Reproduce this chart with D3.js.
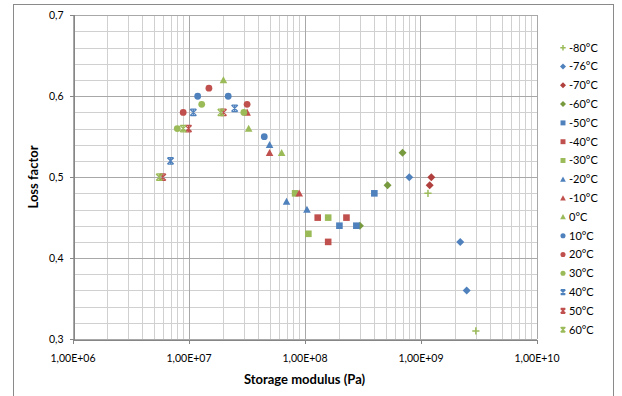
<!DOCTYPE html>
<html><head><meta charset="utf-8">
<script src="https://cdn.jsdelivr.net/npm/d3@7"></script>
<style>
html,body{margin:0;padding:0;background:#fff;}
svg text{font-family:Lato,"Open Sans",sans-serif;fill:#000;}
</style></head>
<body><svg id="c" width="622" height="396"></svg>
<script>
// ---- data ----
const temps = ["-80°C","-76°C","-70°C","-60°C","-50°C","-40°C","-30°C","-20°C","-10°C","0°C","10°C","20°C","30°C","40°C","50°C","60°C"];
const markers = ["plus","diamond","diamond","diamond","square","square","square","triangle","triangle","triangle","circle","circle","circle","star","star","star"];
const colors = ["#9BBB59","#4F81BD","#B0403D","#789A3E","#4F81BD","#C0504D","#9BBB59","#4F81BD","#C0504D","#9BBB59","#4F81BD","#C0504D","#9BBB59","#4F81BD","#C0504D","#9BBB59"];
const modulus = [
  [1.16e9, 3.0e9],
  [8.0e8, 2.2e9, 2.5e9],
  [1.24e9, 1.2e9],
  [3.0e8, 5.2e8, 7.0e8],
  [2.0e8, 2.8e8, 4.0e8],
  [1.3e8, 1.6e8, 2.3e8],
  [8.3e7, 1.08e8, 1.6e8],
  [5.0e7, 7.0e7, 1.05e8],
  [3.2e7, 5.0e7, 9.0e7],
  [2.0e7, 3.3e7, 6.35e7],
  [1.2e7, 2.2e7, 4.5e7],
  [9.0e6, 1.5e7, 3.2e7],
  [8.0e6, 1.3e7, 3.0e7],
  [7.0e6, 1.1e7, 2.5e7],
  [6.0e6, 1.0e7, 2.0e7],
  [5.6e6, 9.0e6, 1.9e7]
];
const loss = [
  [0.48, 0.31],
  [0.50, 0.42, 0.36],
  [0.50, 0.49],
  [0.44, 0.49, 0.53],
  [0.44, 0.44, 0.48],
  [0.45, 0.42, 0.45],
  [0.48, 0.43, 0.45],
  [0.54, 0.47, 0.46],
  [0.58, 0.53, 0.48],
  [0.62, 0.56, 0.53],
  [0.60, 0.60, 0.55],
  [0.58, 0.61, 0.59],
  [0.56, 0.59, 0.58],
  [0.52, 0.58, 0.585],
  [0.50, 0.56, 0.58],
  [0.50, 0.56, 0.58]
];
const xTicks = [1e6, 1e7, 1e8, 1e9, 1e10];
const yTicks = [0.3, 0.4, 0.5, 0.6, 0.7];

// ---- chart ----
const svg = d3.select("#c");
const L = 72.5, R = 536.5, T = 15.3, B = 339;
const x = d3.scaleLog().domain([1e6, 1e10]).range([L, R]);
const y = d3.scaleLinear().domain([0.3, 0.7]).range([B, T]);

// outer frame
svg.append("rect").attr("x", 13.5).attr("y", 4.5).attr("width", 600).attr("height", 400)
  .attr("fill", "#fff").attr("stroke", "#8a8a8a").attr("stroke-width", 1);

const g = svg.append("g").attr("shape-rendering", "crispEdges");
// minor grid
const minorX = [];
for (let e = 6; e < 10; e++) for (let m = 2; m <= 9; m++) minorX.push(m * Math.pow(10, e));
const minorY = d3.range(0.30, 0.7001, 0.02).filter(v => Math.abs(Math.round(v*10) - v*10) > 1e-6);
g.selectAll(".mx").data(minorX).join("line")
  .attr("x1", d => Math.round(x(d)) + 0.5).attr("x2", d => Math.round(x(d)) + 0.5)
  .attr("y1", T).attr("y2", B).attr("stroke", "#d0d0d0");
g.selectAll(".my").data(minorY).join("line")
  .attr("y1", d => Math.round(y(d)) + 0.5).attr("y2", d => Math.round(y(d)) + 0.5)
  .attr("x1", L).attr("x2", R).attr("stroke", "#d0d0d0");
// major grid
g.selectAll(".Mx").data(xTicks).join("line")
  .attr("x1", d => Math.round(x(d)) + 0.5).attr("x2", d => Math.round(x(d)) + 0.5)
  .attr("y1", T).attr("y2", B).attr("stroke", "#a8a8a8");
g.selectAll(".My").data(yTicks).join("line")
  .attr("y1", d => Math.round(y(d)) + 0.5).attr("y2", d => Math.round(y(d)) + 0.5)
  .attr("x1", L).attr("x2", R).attr("stroke", "#a8a8a8");

// axes
const fmtX = d => "1,00E+" + String(Math.round(Math.log10(d))).padStart(2, "0");
const fmtY = d => d3.format(".1f")(d).replace(".", ",");
const xAxis = svg.append("g").attr("transform", `translate(0,${Math.round(B)+0.5})`)
  .call(d3.axisBottom(x).tickValues(xTicks).tickFormat(fmtX).tickSize(4).tickPadding(11));
const yAxis = svg.append("g").attr("transform", `translate(${Math.round(L)+0.5},0)`)
  .call(d3.axisLeft(y).tickValues(yTicks).tickFormat(fmtY).tickSize(4).tickPadding(6));
[xAxis, yAxis].forEach(a => {
  a.selectAll("path.domain").attr("stroke", "#868686").attr("shape-rendering", "crispEdges");
  a.selectAll(".tick line").attr("stroke", "#868686").attr("shape-rendering", "crispEdges");
  a.selectAll("text").attr("font-family", "Lato, 'Open Sans', sans-serif").attr("font-size", 10.5).attr("fill", "#000");
});

// titles
svg.append("text").attr("x", 304.5).attr("y", 384).attr("text-anchor", "middle")
  .attr("font-size", 13).attr("font-weight", "bold").text("Storage modulus (Pa)");
svg.append("text").attr("transform", "translate(38,177) rotate(-90)").attr("text-anchor", "middle")
  .attr("font-size", 13).attr("font-weight", "bold").text("Loss factor");

// marker drawing
function drawMarker(sel, type, color, s) {
  if (type === "circle") {
    sel.append("circle").attr("r", 3.4 * s).attr("fill", color);
  } else if (type === "square") {
    sel.append("rect").attr("x", -3.3 * s).attr("y", -3.3 * s).attr("width", 6.6 * s).attr("height", 6.6 * s).attr("fill", color);
  } else if (type === "diamond") {
    const h = 4 * s;
    sel.append("path").attr("d", `M0,${-h}L${h},0L0,${h}L${-h},0Z`).attr("fill", color);
  } else if (type === "triangle") {
    const h = 3.8 * s;
    sel.append("path").attr("d", `M0,${-h}L${h},${h*0.85}L${-h},${h*0.85}Z`).attr("fill", color);
  } else if (type === "plus") {
    const h = 3.6 * s;
    sel.append("path").attr("d", `M${-h},0H${h}M0,${-h}V${h}`).attr("stroke", color).attr("stroke-width", 1.5).attr("fill", "none");
  } else if (type === "star") {
    const h = 3.2 * s;
    sel.append("path").attr("d", `M${-h},${-h}L${h},${h}M${h},${-h}L${-h},${h}M0,${-h}V${h}M${-h*0.9},${-h}H${h*0.9}M${-h*0.9},${h}H${h*0.9}`)
      .attr("stroke", color).attr("stroke-width", 1.3).attr("fill", "none");
  }
}

// points
temps.forEach((t, i) => {
  const pts = modulus[i].map((m, j) => ({ m, l: loss[i][j] }));
  const sg = svg.append("g").attr("class", "series");
  sg.selectAll("g").data(pts).join("g")
    .attr("transform", d => `translate(${x(d.m)},${y(d.l)})`)
    .each(function () { drawMarker(d3.select(this), markers[i], colors[i], 1); });
});

// legend
const lg = svg.append("g");
temps.forEach((t, i) => {
  const yy = 47.7 + i * 18.8;
  const it = lg.append("g").attr("transform", `translate(563,${yy})`);
  drawMarker(it, markers[i], colors[i], 0.75);
  it.append("text").attr("x", 6).attr("y", 0).attr("dy", "0.35em").attr("font-size", 11).text(t);
});
</script></body></html>
